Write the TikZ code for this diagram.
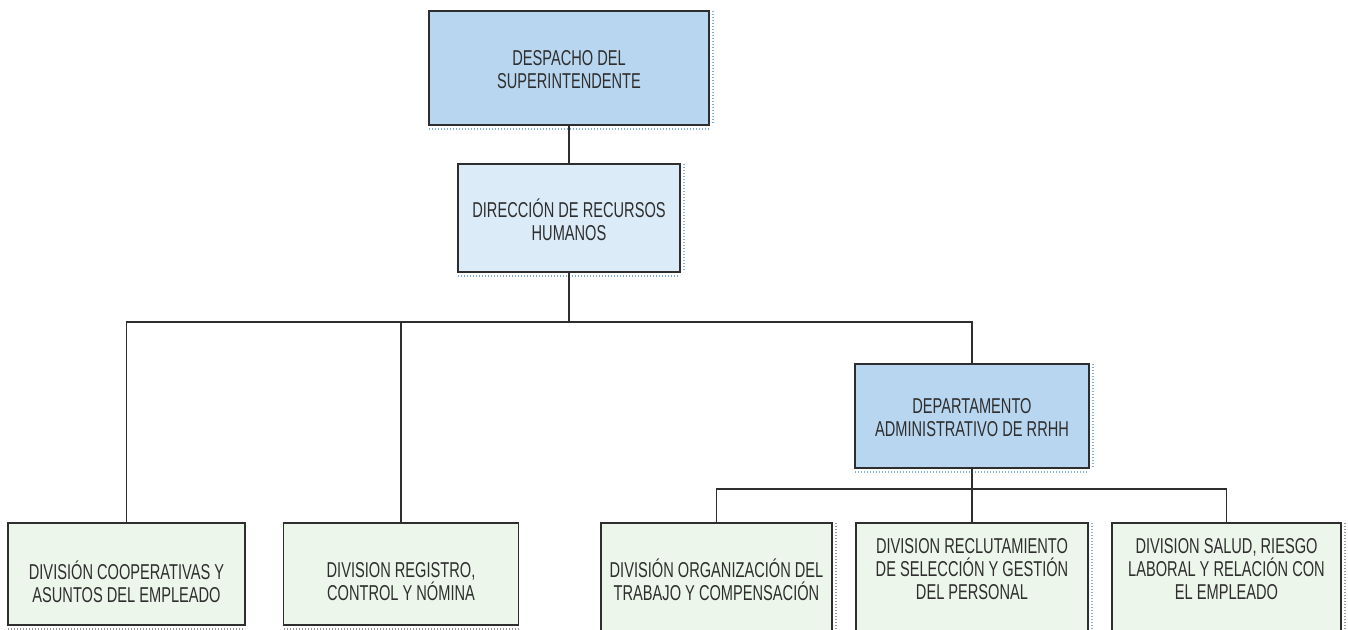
\documentclass[tikz,border=0pt]{standalone}
\usepackage{fontspec}
\setmainfont[FakeStretch=0.68]{Liberation Sans}
\definecolor{headblue}{HTML}{B9D6F0}
\definecolor{dirblue}{HTML}{DCEBF8}
\definecolor{divgreen}{HTML}{EDF6EB}
\definecolor{inkgrey}{HTML}{2E2E2E}
\definecolor{dotblue}{HTML}{7FAFD6}
\begin{document}
\begin{tikzpicture}[x=1pt,y=-1pt,
  every node/.style={inner sep=0pt, outer sep=0pt},
  unitbox/.style={draw=inkgrey, line width=1.5pt, rectangle},
  headfill/.style={fill=headblue},
  dirfill/.style={fill=dirblue},
  divfill/.style={fill=divgreen},
  txt/.style={align=center, text=inkgrey, font=\fontsize{21.5}{23}\selectfont},
  link/.style={draw=inkgrey, line width=1.7pt},
  shade/.style={draw=dotblue, line width=1.2pt, dash pattern=on 1pt off 2pt},
  greyshade/.style={draw=black!40, line width=1.1pt, dash pattern=on 1pt off 2pt}
]
\useasboundingbox (0,0) rectangle (1348,629);
\clip (0,0) rectangle (1348,629);

% boxes: centre, width, height in pixels
\node[unitbox, headfill, minimum width=280pt, minimum height=114pt] (top) at (569,68) {};
\node[unitbox, dirfill, minimum width=222pt, minimum height=108pt] (dir) at (569,218) {};
\node[unitbox, headfill, minimum width=234pt, minimum height=104pt] (dept) at (972,416) {};
\node[unitbox, divfill, minimum width=237pt, minimum height=102pt] (b1) at (126.5,574) {};
\node[unitbox, divfill, minimum width=235pt, minimum height=102pt] (b2) at (401,574) {};
\node[unitbox, divfill, minimum width=231pt, minimum height=118pt] (b3) at (716.5,582) {};
\node[unitbox, divfill, minimum width=232pt, minimum height=118pt] (b4) at (972,582) {};
\node[unitbox, divfill, minimum width=229pt, minimum height=118pt] (b5) at (1226.5,582) {};

% dotted shadow edges
\draw[shade] ([yshift=-4pt]top.south west) -- ([yshift=-4pt]top.south east);
\draw[shade] ([xshift=4pt]top.north east) -- ([xshift=4pt]top.south east);
\draw[shade] ([yshift=-4pt]dir.south west) -- ([yshift=-4pt]dir.south east);
\draw[shade] ([xshift=4pt]dir.north east) -- ([xshift=4pt]dir.south east);
\draw[shade] ([yshift=-4pt]dept.south west) -- ([yshift=-4pt]dept.south east);
\draw[shade] ([xshift=4pt]dept.north east) -- ([xshift=4pt]dept.south east);
\draw[greyshade] ([yshift=-4pt]b1.south west) -- ([yshift=-4pt]b1.south east);
\draw[greyshade] ([yshift=-4pt]b2.south west) -- ([yshift=-4pt]b2.south east);
\draw[greyshade] ([xshift=4pt]b3.north east) -- ([xshift=4pt]b3.south east);
\draw[shade] ([xshift=4pt]b4.north east) -- ([xshift=4pt]b4.south east);
\draw[greyshade] ([xshift=4pt]b5.north east) -- ([xshift=4pt]b5.south east);

% labels
\node[txt] (ttop) at (569,70) {DESPACHO DEL\\SUPERINTENDENTE};
\node[txt] (tdir) at (569,220) {DIRECCIÓN DE RECURSOS\\HUMANOS};
\node[txt] (tdept) at (972,418) {DEPARTAMENTO\\ADMINISTRATIVO DE RRHH};
\node[txt] (tb1) at (126.5,582) {DIVISIÓN COOPERATIVAS Y\\ASUNTOS DEL EMPLEADO};
\node[txt] (tb2) at (401,582) {DIVISION REGISTRO,\\CONTROL Y NÓMINA};
\node[txt] (tb3) at (716.5,580) {DIVISIÓN ORGANIZACIÓN DEL\\TRABAJO Y COMPENSACIÓN};
\node[txt] (tb4) at (972,569) {DIVISION RECLUTAMIENTO\\DE SELECCIÓN Y GESTIÓN\\DEL PERSONAL};
\node[txt] (tb5) at (1226.5,569) {DIVISION SALUD, RIESGO\\LABORAL Y RELACIÓN CON\\EL EMPLEADO};

% connector buses
\coordinate (bus) at (569,322);
\coordinate (lowbus) at (972,489);

\draw[link] (top.south) -- (dir.north);
\draw[link] (dir.south) -- (bus);
\draw[link] (b1.north) |- (bus) -| (dept.north);
\draw[link] (b2.north) -- (b2.north |- bus);
\draw[link] (dept.south) -- (lowbus);
\draw[link] (b3.north) |- (lowbus) -| (b5.north);
\draw[link] (b4.north) -- (lowbus);
\end{tikzpicture}
\end{document}
